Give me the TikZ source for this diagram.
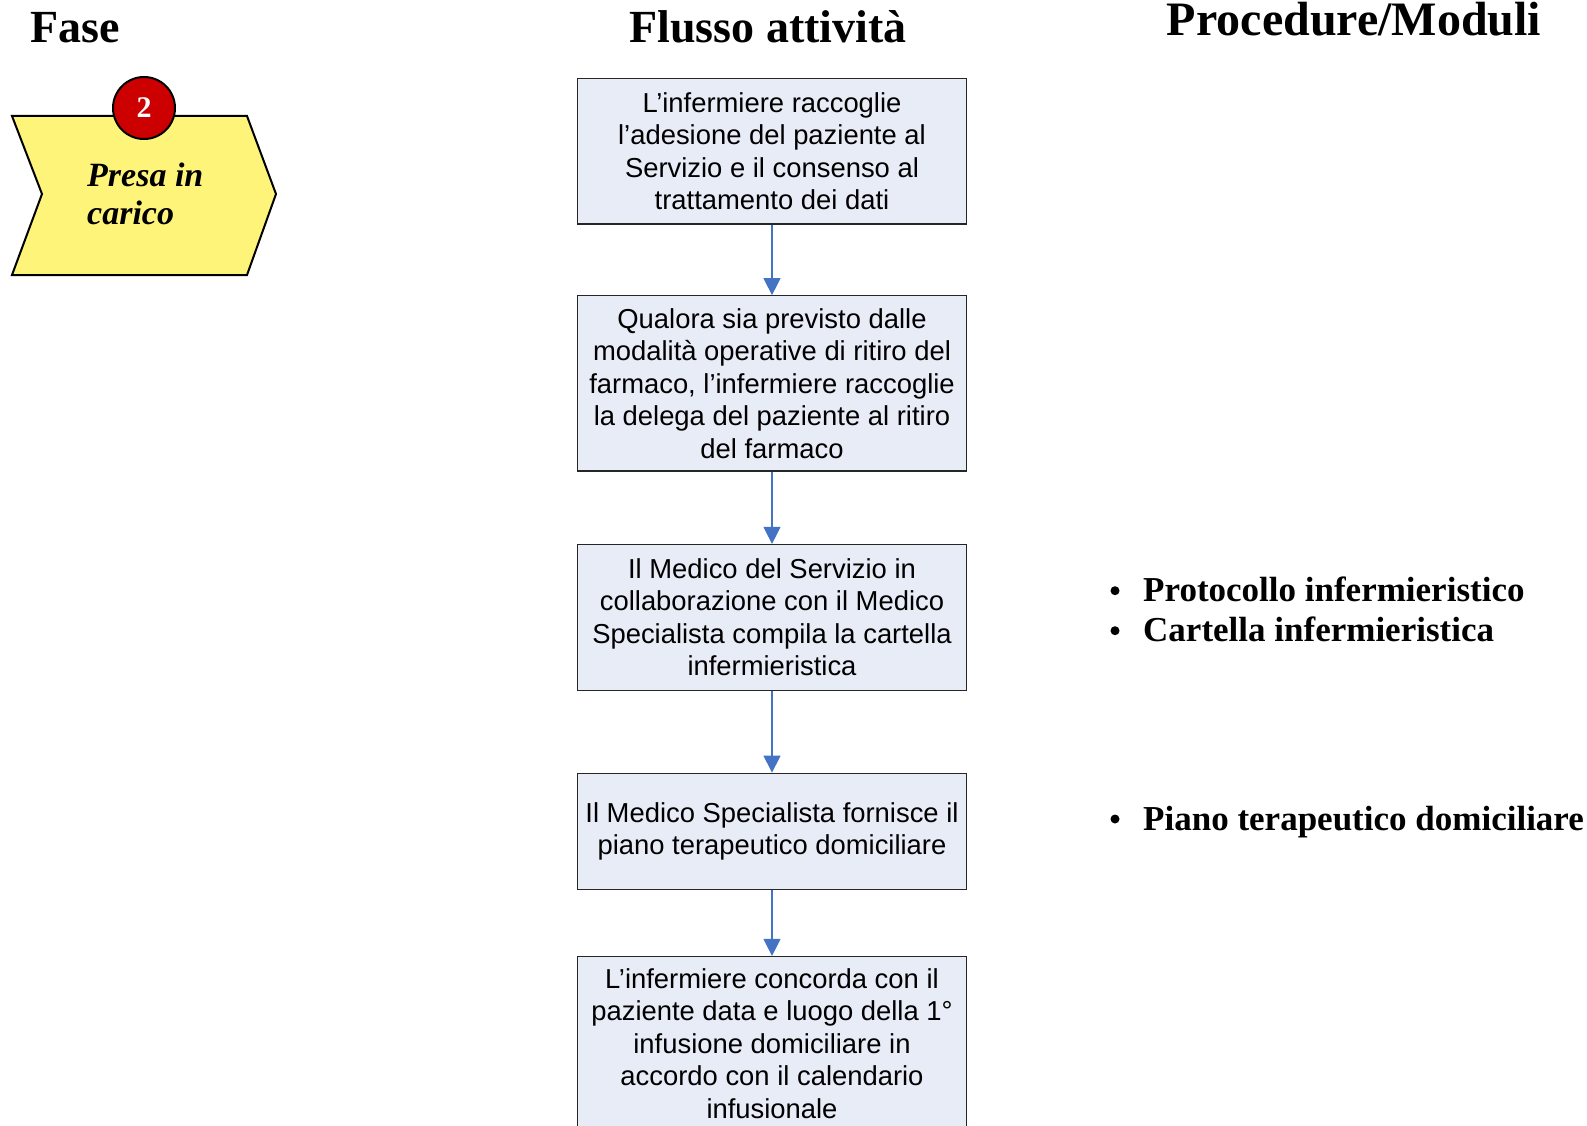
\documentclass[tikz,border=0pt]{standalone}
\usepackage{fontspec}
\setmainfont{Liberation Serif}
\newfontfamily\boxfont{Liberation Sans}
\usetikzlibrary{arrows.meta}
\definecolor{boxfill}{HTML}{E8ECF7}
\definecolor{flowblue}{HTML}{4472C4}
\definecolor{chevyellow}{HTML}{FFF47A}
\definecolor{badgered}{HTML}{CC0000}
\begin{document}
\begin{tikzpicture}[x=1pt,y=-1pt,
  flowbox/.style={draw=black!85, line width=1.2pt, fill=boxfill, minimum width=389pt,
    align=center, inner sep=0pt, font=\boxfont\fontsize{27.4}{32.5}\selectfont},
  flowarrow/.style={draw=flowblue, line width=1.2pt, -{Triangle[width=17pt,length=17pt]}},
  header/.style={anchor=base, inner sep=0pt, font=\bfseries\fontsize{46}{50}\selectfont},
  fasetext/.style={anchor=base west, inner sep=0pt, font=\bfseries\itshape\fontsize{34}{38}\selectfont},
  bullettext/.style={anchor=base west, inner sep=0pt, font=\bfseries\fontsize{35}{40}\selectfont},
  bulletdot/.style={circle, fill=black, inner sep=0pt, minimum size=9pt}
]
\fill[white] (0,0) rectangle (1587,1126);
\useasboundingbox (0,0) rectangle (1587,1126);

% headers
\node[header] (hfase) at (75.5,43) {Fase};
\node[header] (hflusso) at (768,42.7) {Flusso attività};
\node[header, font=\bfseries\fontsize{48}{50}\selectfont] (hproc) at (1354,36) {Procedure/Moduli};

% phase chevron
\draw[fill=chevyellow, line width=2pt, line join=miter]
  (12,116) -- (247,116) -- (276,194) -- (247,275) -- (12,275) -- (42,194) -- cycle;
\node[circle, draw=black, line width=2pt, fill=badgered, minimum size=62pt, inner sep=0pt,
  text=white, font=\bfseries\fontsize{30}{30}\selectfont] (badge) at (144,108) {2};
\node[fasetext] (fase1) at (87,186) {Presa in};
\node[fasetext] (fase2) at (87,224) {carico};

% flow boxes
\node[flowbox, minimum height=145.7pt] (b1) at (772,151.2)
  {L’infermiere raccoglie\\l’adesione del paziente al\\Servizio e il consenso al\\trattamento dei dati};
\node[flowbox, minimum height=175.3pt] (b2) at (772,383.4)
  {Qualora sia previsto dalle\\modalità operative di ritiro del\\farmaco, l’infermiere raccoglie\\la delega del paziente al ritiro\\del farmaco};
\node[flowbox, minimum height=145.8pt] (b3) at (772,617.4)
  {Il Medico del Servizio in\\collaborazione con il Medico\\Specialista compila la cartella\\infermieristica};
\node[flowbox, minimum height=116.4pt] (b4) at (772,831.4)
  {Il Medico Specialista fornisce il\\piano terapeutico domiciliare};
\node[flowbox, minimum height=174pt] (b5) at (772,1043.5)
  {L’infermiere concorda con il\\paziente data e luogo della 1°\\infusione domiciliare in\\accordo con il calendario\\infusionale};

\draw[flowarrow] (b1.south) -- (b2.north);
\draw[flowarrow] (b2.south) -- (b3.north);
\draw[flowarrow] (b3.south) -- (b4.north);
\draw[flowarrow] (b4.south) -- (b5.north);

% procedures
\node[bulletdot] (d1) at (1115,590.7) {};
\node[bullettext] (p1) at (1143,601.7) {Protocollo infermieristico};
\node[bulletdot] (d2) at (1115,630.7) {};
\node[bullettext] (p2) at (1143,641.7) {Cartella infermieristica};
\node[bulletdot] (d3) at (1115,819) {};
\node[bullettext] (p3) at (1143,830) {Piano terapeutico domiciliare};
\end{tikzpicture}
\end{document}
